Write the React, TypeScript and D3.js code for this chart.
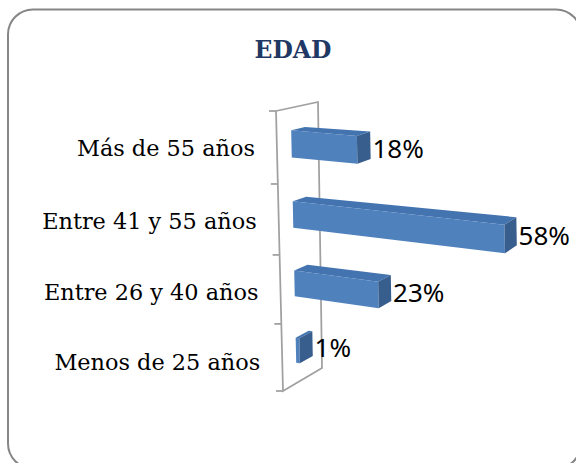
import React from "react";
import * as d3 from "d3";

const categories = ["Más de 55 años", "Entre 41 y 55 años", "Entre 26 y 40 años", "Menos de 25 años"];
const values = [18, 58, 23, 1];
const valueLabels = ["18%", "58%", "23%", "1%"];
const title = "EDAD";
const valueDomain = [0, 60];

const W = 576;
const H = 463;

type P = [number, number];
type Quad = { c0z0: P; c0z1: P; c4z0: P; c4z1: P };

// 3D box layout (screen corners of the v=0 wall plane and the v=max plane)
const wallPlane: Quad = { c0z0: [276, 111], c0z1: [318, 102], c4z0: [283, 391], c4z1: [322, 368] };
const farPlane: Quad = { c0z0: [496.75, 132.1], c0z1: [533.75, 112.1], c4z0: [503.7, 431.4], c4z1: [537.7, 401.4] };
const zFront = 0.35;
const zBack = 0.68;

const vScale = d3.scaleLinear().domain(valueDomain).range([0, 1]);
const cScale = d3.scaleBand<string>().domain(categories).range([0, 4]).paddingInner(0.62).paddingOuter(0.31);
const persp = (c: number) => (0.2644 * c) / (1 + 0.0144 * c);

const lerp2 = (a: P, b: P, t: number): P => [a[0] + (b[0] - a[0]) * t, a[1] + (b[1] - a[1]) * t];
const bil = (q: Quad, s: number, z: number): P => lerp2(lerp2(q.c0z0, q.c0z1, z), lerp2(q.c4z0, q.c4z1, z), s);
const project = (v: number, c: number, z: number): P => {
  const t = vScale(v);
  const s = persp(c);
  return lerp2(bil(wallPlane, s, z), bil(farPlane, s, z), t);
};

const poly = d3.line<P>().x((d) => d[0]).y((d) => d[1]);
const closed = (pts: P[]) => poly(pts)! + "Z";

export default function App() {
  const bars = categories.map((cat, i) => {
    const v = values[i];
    const c0 = cScale(cat)!;
    const c1 = c0 + cScale.bandwidth();
    const cm = (c0 + c1) / 2;
    const front = closed([project(0, c0, zFront), project(v, c0, zFront), project(v, c1, zFront), project(0, c1, zFront)]);
    const top = closed([project(0, c0, zFront), project(v, c0, zFront), project(v, c0, zBack), project(0, c0, zBack)]);
    const end = closed([project(v, c0, zFront), project(v, c1, zFront), project(v, c1, zBack), project(v, c0, zBack)]);
    const lx = project(v, cm, zBack)[0] + 2;
    const ly = project(v, cm, (zFront + zBack) / 2)[1];
    const catPt = project(0, i + 0.5, 0);
    return { cat, front, top, end, lx, ly, label: valueLabels[i], catX: catPt[0] - 22, catY: catPt[1] + i * 1.4 };
  });

  const wallPath = closed([project(0, 0, 0), project(0, 0, 1), project(0, 4, 1), project(0, 4, 0)]);
  const ticks = d3.range(0, 5).map((c) => project(0, c, 0));

  return (
    <svg width={W} height={H} style={{ position: "absolute", left: 0, top: 0, background: "#fff" }}>
      <rect x={8} y={9.5} width={573} height={459} rx={25} ry={25} fill="#fff" stroke="#868686" strokeWidth={2} />
      <text x={293} y={58} textAnchor="middle" fontFamily="DejaVu Serif" fontWeight="bold" fontSize={23.5} fill="#1F3864">
        {title}
      </text>
      <path d={wallPath} fill="none" stroke="#a0a0a0" strokeWidth={1.75} />
      {ticks.map((p, i) => (
        <line key={i} x1={p[0] - 7} x2={p[0]} y1={p[1]} y2={p[1]} stroke="#a0a0a0" strokeWidth={1.75} />
      ))}
      {bars.map((b) => (
        <g key={b.cat}>
          <path d={b.front} fill="#4F81BD" />
          <path d={b.top} fill="#4374B0" />
          <path d={b.end} fill="#385E8E" />
          <text x={b.lx} y={b.ly} dominantBaseline="central" fontFamily="Noto Sans" fontSize={26} fill="#000">
            {b.label}
          </text>
          <text x={b.catX} y={b.catY} dominantBaseline="central" textAnchor="end" fontFamily="DejaVu Serif" fontSize={22.4} fill="#000">
            {b.cat}
          </text>
        </g>
      ))}
    </svg>
  );
}
